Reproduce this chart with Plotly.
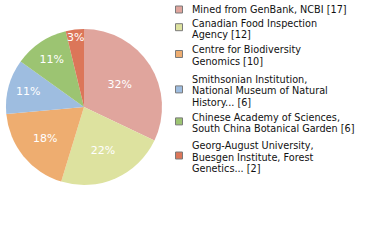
import math
import plotly.graph_objects as go

labels = [
    "Mined from GenBank, NCBI [17]",
    "Canadian Food Inspection<br>Agency [12]",
    "Centre for Biodiversity<br>Genomics [10]",
    "Smithsonian Institution,<br>National Museum of Natural<br>History... [6]",
    "Chinese Academy of Sciences,<br>South China Botanical Garden [6]",
    "Georg-August University,<br>Buesgen Institute, Forest<br>Genetics... [2]",
]
values = [17, 12, 10, 6, 6, 2]
colors = ["#E0A59D", "#DDE29F", "#EEAD70", "#9EBDE0", "#9CC472", "#DC7659"]

W, H = 380, 240
total = sum(values)
pct_text = [f"{math.floor(v * 100 / total)}%" for v in values]

fig = go.Figure(go.Pie(
    values=values,
    labels=[l.replace("<br>", " ") for l in labels],
    marker=dict(colors=colors, line=dict(width=0)),
    text=pct_text,
    textinfo="text",
    textposition="inside",
    insidetextorientation="horizontal",
    insidetextfont=dict(color="white", size=11, family="DejaVu Sans"),
    sort=False,
    direction="clockwise",
    rotation=0,
    showlegend=False,
    hoverinfo="label+value",
    domain=dict(x=[6 / W, 162 / W], y=[(H - 185) / H, (H - 29) / H]),
))

# legend drawn manually (layout positions: first-line centre, px from top)
item_centers = [9.5, 23.0, 49.8, 79.5, 117.2, 145.6]
line_h = 11.4
sq = 7
shapes = []
annotations = []
for lab, col, c0 in zip(labels, colors, item_centers):
    lines = lab.split("<br>")
    for i, ln in enumerate(lines):
        cy = c0 + i * line_h
        annotations.append(dict(
            x=190 / W, y=1 - cy / H, xref="paper", yref="paper",
            xanchor="left", yanchor="middle", align="left",
            text=ln, showarrow=False,
            font=dict(family="DejaVu Sans", size=9.7, color="#111111"),
        ))
    n = len(lines)
    bc = c0 + (n - 1) * line_h / 2 - (1.5 if n > 1 else 0)
    shapes.append(dict(
        type="rect", xref="paper", yref="paper",
        x0=175.5 / W, x1=(175.5 + sq) / W,
        y0=1 - (bc - sq / 2) / H, y1=1 - (bc + sq / 2) / H,
        fillcolor=col, line=dict(color="#7a7a7a", width=1),
    ))

fig.update_layout(
    width=W, height=H,
    margin=dict(l=0, r=0, t=0, b=0),
    paper_bgcolor="white", plot_bgcolor="white",
    uniformtext=dict(minsize=11, mode="show"),
    shapes=shapes, annotations=annotations,
)
fig.write_html("out.html")
